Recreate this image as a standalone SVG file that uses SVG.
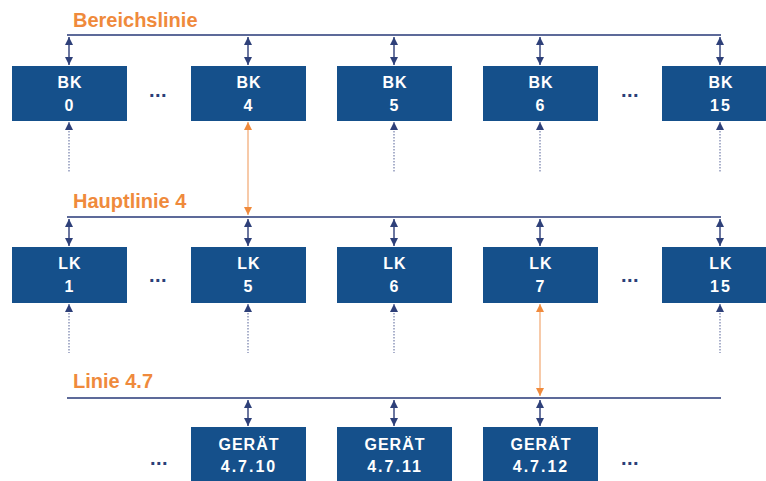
<svg xmlns="http://www.w3.org/2000/svg" width="766" height="481" viewBox="0 0 766 481">
<defs>
<style>
.box{fill:#15508b}
.bt{font-family:"Liberation Sans",Arial,sans-serif;font-weight:bold;font-size:16px;fill:#ffffff;text-anchor:middle;letter-spacing:1px}
.num{letter-spacing:2px}
.lbl{font-family:"Liberation Sans",Arial,sans-serif;font-weight:bold;font-size:20px;fill:#ef8a3c}
.dots{font-family:"Liberation Sans",Arial,sans-serif;font-weight:bold;font-size:20px;fill:#2a3f78;text-anchor:middle;letter-spacing:0.5px}
.bus{stroke:#5d6a99;stroke-width:2;fill:none}
.dbl{stroke:#3b4a80;stroke-width:1.5;fill:none;marker-start:url(#na);marker-end:url(#na)}
.dot{stroke:#8e97bb;stroke-width:1.5;stroke-dasharray:1.5 1.5;fill:none;marker-start:url(#na)}
.or{stroke:#f4b88c;stroke-width:1.5;fill:none;marker-start:url(#oa);marker-end:url(#oa)}
</style>
<marker id="na" viewBox="0 0 8 8" refX="8" refY="4" markerWidth="8" markerHeight="8" markerUnits="userSpaceOnUse" orient="auto-start-reverse"><path d="M0,0 L8,4 L0,8 z" fill="#2e4079"/></marker>
<marker id="oa" viewBox="0 0 8 8" refX="8" refY="4" markerWidth="8" markerHeight="8" markerUnits="userSpaceOnUse" orient="auto-start-reverse"><path d="M0,0 L8,4 L0,8 z" fill="#f08a3c"/></marker>
</defs>
<rect width="766" height="481" fill="#ffffff"/>
<g id="labels">
<text class="lbl" x="73" y="27">Bereichslinie</text>
<text class="lbl" x="73" y="208">Hauptlinie 4</text>
<text class="lbl" x="73" y="388">Linie 4.7</text>
</g>
<g id="connectors">
<path class="bus" d="M67,35 H721 M67,217 H721 M67,398 H721"/>
<path class="dbl" d="M69,37 V65"/><path class="dbl" d="M248,37 V65"/><path class="dbl" d="M394,37 V65"/><path class="dbl" d="M540,37 V65"/><path class="dbl" d="M720,37 V65"/>
<path class="dbl" d="M69,219 V246"/><path class="dbl" d="M248,219 V246"/><path class="dbl" d="M394,219 V246"/><path class="dbl" d="M540,219 V246"/><path class="dbl" d="M720,219 V246"/>
<path class="dbl" d="M248,400 V426"/><path class="dbl" d="M394,400 V426"/><path class="dbl" d="M540,400 V426"/>
<path class="dot" d="M69,122 V173"/><path class="dot" d="M394,122 V173"/><path class="dot" d="M540,122 V173"/><path class="dot" d="M720,122 V173"/>
<path class="dot" d="M69,304 V353"/><path class="dot" d="M248,304 V353"/><path class="dot" d="M394,304 V353"/><path class="dot" d="M720,304 V353"/>
<path class="or" d="M248,122 V215"/>
<path class="or" d="M540,304 V396"/>
</g>
<g id="bk0"><rect class="box" x="12" y="66" width="115" height="55"/><text class="bt" x="70" y="88">BK</text><text class="bt num" x="70" y="111">0</text></g>
<g id="bk4"><rect class="box" x="191" y="66" width="115" height="55"/><text class="bt" x="249" y="88">BK</text><text class="bt num" x="249" y="111">4</text></g>
<g id="bk5"><rect class="box" x="337" y="66" width="115" height="55"/><text class="bt" x="395" y="88">BK</text><text class="bt num" x="395" y="111">5</text></g>
<g id="bk6"><rect class="box" x="483" y="66" width="115" height="55"/><text class="bt" x="541" y="88">BK</text><text class="bt num" x="541" y="111">6</text></g>
<g id="bk15"><rect class="box" x="662" y="66" width="115" height="55"/><text class="bt" x="721" y="88">BK</text><text class="bt num" x="721" y="111">15</text></g>
<g id="lk1"><rect class="box" x="12" y="247" width="115" height="56"/><text class="bt" x="70" y="269">LK</text><text class="bt num" x="70" y="292">1</text></g>
<g id="lk5"><rect class="box" x="191" y="247" width="115" height="56"/><text class="bt" x="249" y="269">LK</text><text class="bt num" x="249" y="292">5</text></g>
<g id="lk6"><rect class="box" x="337" y="247" width="115" height="56"/><text class="bt" x="395" y="269">LK</text><text class="bt num" x="395" y="292">6</text></g>
<g id="lk7"><rect class="box" x="483" y="247" width="115" height="56"/><text class="bt" x="541" y="269">LK</text><text class="bt num" x="541" y="292">7</text></g>
<g id="lk15"><rect class="box" x="662" y="247" width="115" height="56"/><text class="bt" x="721" y="269">LK</text><text class="bt num" x="721" y="292">15</text></g>
<g id="g10"><rect class="box" x="191" y="427" width="115" height="56"/><text class="bt" x="249" y="450">GERÄT</text><text class="bt num" x="249" y="472">4.7.10</text></g>
<g id="g11"><rect class="box" x="337" y="427" width="115" height="56"/><text class="bt" x="395" y="450">GERÄT</text><text class="bt num" x="395" y="472">4.7.11</text></g>
<g id="g12"><rect class="box" x="483" y="427" width="115" height="56"/><text class="bt" x="541" y="450">GERÄT</text><text class="bt num" x="541" y="472">4.7.12</text></g>
<g id="ellipses">
<text class="dots" x="158" y="97">...</text>
<text class="dots" x="630" y="97">...</text>
<text class="dots" x="158" y="282">...</text>
<text class="dots" x="630" y="282">...</text>
<text class="dots" x="159" y="465">...</text>
<text class="dots" x="630" y="465">...</text>
</g>
</svg>
